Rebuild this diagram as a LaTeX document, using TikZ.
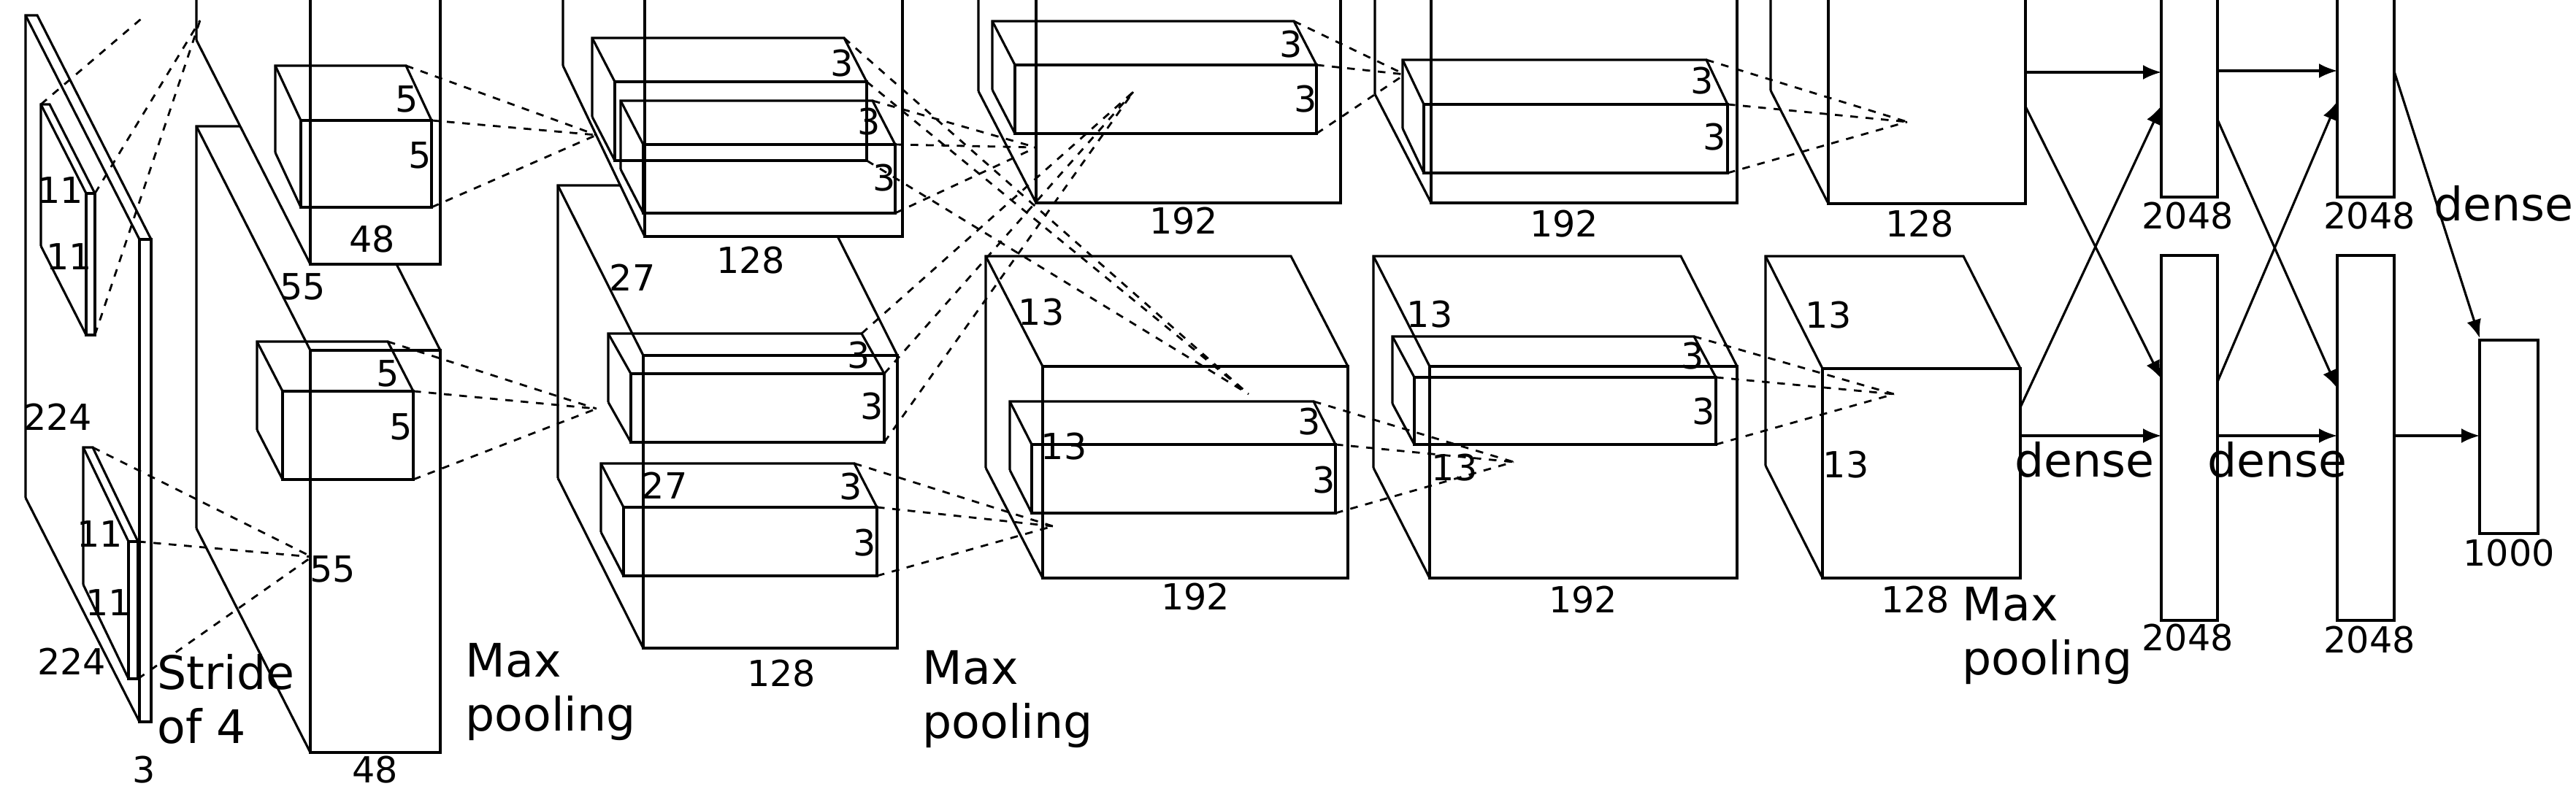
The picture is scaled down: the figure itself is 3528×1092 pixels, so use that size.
\documentclass[tikz,border=0pt]{standalone}
\usepackage{fontspec}
\setmainfont{DejaVu Sans}
\usetikzlibrary{arrows.meta,positioning}

% front face (xl,yt)-(xr,yb), back face shifted by (-dx,-dy)
\newcommand{\cuboid}[7]{%
  \path[#1] (#2-#6,#3-#7) -- (#4-#6,#3-#7) -- (#4,#3) -- (#4,#5) -- (#2,#5) -- (#2-#6,#5-#7) -- cycle;
  \draw (#2,#3) rectangle (#4,#5);
  \draw (#2-#6,#5-#7) -- (#2-#6,#3-#7) -- (#4-#6,#3-#7) -- (#4,#3);
  \draw (#2-#6,#3-#7) -- (#2,#3);
  \draw (#2-#6,#5-#7) -- (#2,#5);}
% kernel box with its three dashed lines to a target
\newcommand{\kernel}[7]{%
  \cuboid{}{#1}{#2}{#3}{#4}{#5}{#6}
  \draw[conn] (#3-#5,#2-#6) -- (#7) (#3,#2) -- (#7) (#3,#4) -- (#7);}

\begin{document}
\begin{tikzpicture}[x=0.01cm,y=-0.01cm,line width=0.9pt,
  conn/.style={line width=0.8pt,dash pattern=on 3pt off 3pt},
  arr/.style={-{Latex[length=0.25cm,width=0.2cm]},line width=0.9pt},
  num/.style={font=\fontsize{14}{16}\selectfont,inner sep=1pt},
  lab/.style={font=\fontsize{18}{21}\selectfont,align=left,inner sep=0pt}
]
\useasboundingbox (0,0) rectangle (3528,1092);
\clip (0,0) rectangle (3528,1092);

% targets of the dashed lines
\coordinate (t1) at (199,21);
\coordinate (t1b) at (274,28);
\coordinate (t2) at (427,763);
\coordinate (t3) at (817,185);
\coordinate (t4) at (817,560);
\coordinate (t5) at (1710,540);
\coordinate (t6) at (1419,202);
\coordinate (t7) at (1552,126);
\coordinate (t8) at (1442,721);
\coordinate (t9) at (1924,102);
\coordinate (t10) at (2073,633);
\coordinate (t11) at (2612,167);
\coordinate (t12) at (2594,540);

% layers
\cuboid{fill=white}{191}{328}{207}{989}{156}{307}
\cuboid{fill=white}{425}{480}{603}{1031}{156}{307}
\cuboid{fill=white}{425}{-300}{603}{362}{156}{307}
\cuboid{fill=white}{881}{487}{1229}{888}{117}{233}
\cuboid{fill=white}{883}{-300}{1236}{324}{112}{234}
\cuboid{fill=white}{1428}{502}{1846}{792}{78}{151}
\cuboid{fill=white}{1419}{-300}{1836}{278}{79}{153}
\cuboid{fill=white}{1958}{502}{2379}{792}{77}{151}
\cuboid{fill=white}{1960}{-300}{2379}{278}{77}{149}
\cuboid{fill=white}{2496}{505}{2767}{792}{78}{154}
\cuboid{fill=white}{2504}{-300}{2774}{279}{79}{155}

% kernels
\cuboid{}{118}{265}{130}{459}{62}{122}
\draw[conn] (56,143) -- (t1) (130,265) -- (t1b) (130,459) -- (t1b);
\kernel{176}{742}{189}{930}{62}{129}{t2}
\kernel{412}{165}{591}{284}{35}{75}{t3}
\kernel{387}{536}{566}{657}{35}{68}{t4}
\kernel{842}{112}{1187}{220}{31}{60}{t5}
\kernel{881}{198}{1226}{292}{31}{60}{t6}
\kernel{864}{512}{1211}{606}{31}{55}{t7}
\kernel{854}{695}{1201}{789}{31}{60}{t8}
\kernel{1390}{89}{1803}{183}{31}{60}{t9}
\kernel{1413}{609}{1829}{703}{30}{59}{t10}
\kernel{1950}{143}{2366}{237}{29}{61}{t11}
\kernel{1937}{517}{2350}{609}{30}{56}{t12}

% dense layers
\draw (2960,-20) rectangle (3037,270);
\draw (2960,350) rectangle (3037,850);
\draw (3201,-20) rectangle (3279,270);
\draw (3201,350) rectangle (3279,850);
\draw (3396,466) rectangle (3476,731);

\coordinate (c6a) at (2774,99);
\coordinate (c6b) at (2774,146);
\coordinate (c6c) at (2767,558);
\coordinate (c6d) at (2767,597);
\coordinate (d1a) at (2960,99);
\coordinate (d1b) at (2960,519);
\coordinate (d1c) at (2960,145);
\coordinate (d1d) at (2960,597);
\coordinate (e1a) at (3037,97);
\coordinate (e1b) at (3037,164);
\coordinate (e1c) at (3037,523);
\coordinate (e1d) at (3037,597);
\coordinate (d2a) at (3201,97);
\coordinate (d2b) at (3201,532);
\coordinate (d2c) at (3201,139);
\coordinate (d2d) at (3201,597);
\coordinate (e2a) at (3279,98);
\coordinate (e2d) at (3279,597);
\coordinate (oa) at (3396,463);
\coordinate (od) at (3396,597);

\draw[arr] (c6a) -- (d1a);
\draw[arr] (c6b) -- (d1b);
\draw[arr] (c6c) -- (d1c);
\draw[arr] (c6d) -- (d1d);
\draw[arr] (e1a) -- (d2a);
\draw[arr] (e1b) -- (d2b);
\draw[arr] (e1c) -- (d2c);
\draw[arr] (e1d) -- (d2d);
\draw[arr] (e2a) -- (oa);
\draw[arr] (e2d) -- (od);

% labels
\node[num] at (83,261) {11};
\node[num] at (95,352) {11};
\node[num] at (137,732) {11};
\node[num] at (149,826) {11};
\node[num] at (79,571) {224};
\node[num] at (98,906) {224};
\node[num] at (197,1055) {3};
\node[lab,anchor=north west] at (214,895) {Stride\\of 4};
\node[num] at (557,136) {5};
\node[num] at (575,213) {5};
\node[num] at (531,512) {5};
\node[num] at (549,585) {5};
\node[num] at (510,328) {48};
\node[num] at (415,393) {55};
\node[num] at (456,780) {55};
\node[num] at (514,1055) {48};
\node[lab,anchor=north west] at (636,880) {Max\\pooling};
\node[num] at (1153,87) {3};
\node[num] at (1190,167) {3};
\node[num] at (1211,244) {3};
\node[num] at (1176,487) {3};
\node[num] at (1194,557) {3};
\node[num] at (1165,667) {3};
\node[num] at (1184,744) {3};
\node[num] at (866,380) {27};
\node[num] at (910,665) {27};
\node[num] at (1028,357) {128};
\node[num] at (1070,923) {128};
\node[lab,anchor=north west] at (1262,890) {Max\\pooling};
\node[num] at (1768,61) {3};
\node[num] at (1788,136) {3};
\node[num] at (1621,303) {192};
\node[num] at (1426,428) {13};
\node[num] at (1457,612) {13};
\node[num] at (1793,578) {3};
\node[num] at (1813,658) {3};
\node[num] at (1637,818) {192};
\node[num] at (2331,111) {3};
\node[num] at (2348,188) {3};
\node[num] at (2142,307) {192};
\node[num] at (1958,431) {13};
\node[num] at (2318,488) {3};
\node[num] at (2333,564) {3};
\node[num] at (1992,641) {13};
\node[num] at (2168,822) {192};
\node[num] at (2629,307) {128};
\node[num] at (2504,432) {13};
\node[num] at (2528,637) {13};
\node[num] at (2623,822) {128};
\node[lab,anchor=north west] at (2686,803) {Max\\pooling};
\node[num] at (2996,296) {2048};
\node[num] at (2996,874) {2048};
\node[num] at (3245,296) {2048};
\node[num] at (3245,877) {2048};
\node[num] at (3436,758) {1000};
\node[lab] at (2855,630) {dense};
\node[lab] at (3119,630) {dense};
\node[lab] at (3429,279) {dense};
\end{tikzpicture}
\end{document}
